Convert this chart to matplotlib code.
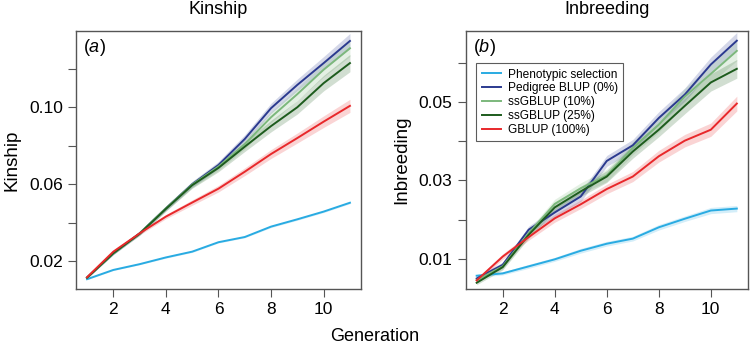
import matplotlib
matplotlib.use("Agg")
import matplotlib.pyplot as plt
import numpy as np

plt.rcParams['font.family'] = ['Liberation Sans', 'DejaVu Sans']
plt.rcParams['mathtext.fontset'] = 'custom'
plt.rcParams['mathtext.it'] = 'Liberation Sans:italic'
plt.rcParams['mathtext.rm'] = 'Liberation Sans'

generation = [1, 2, 3, 4, 5, 6, 7, 8, 9, 10, 11]
series_names = ["Phenotypic selection", "Pedigree BLUP (0%)", "ssGBLUP (10%)",
                "ssGBLUP (25%)", "GBLUP (100%)"]
series_colors = ["#29abe2", "#2b3a8f", "#7cb87c", "#1d5c1d", "#e8282b"]

# panel (a) kinship means
kin_pheno = [0.0107, 0.0155, 0.0185, 0.0220, 0.0250, 0.0299, 0.0326, 0.0380, 0.0418, 0.0458, 0.0504]
kin_ped = [0.0115, 0.0240, 0.0345, 0.0475, 0.0600, 0.0700, 0.0835, 0.0995, 0.1116, 0.1229, 0.1344]
kin_ss10 = [0.0115, 0.0240, 0.0345, 0.0475, 0.0598, 0.0692, 0.0808, 0.0948, 0.1068, 0.1195, 0.1306]
kin_ss25 = [0.0115, 0.0242, 0.0343, 0.0472, 0.0595, 0.0685, 0.0795, 0.0902, 0.1000, 0.1125, 0.1229]
kin_gblup = [0.0117, 0.0250, 0.0345, 0.0432, 0.0505, 0.0577, 0.0665, 0.0757, 0.0840, 0.0925, 0.1007]

# panel (a) band half-widths
kin_pheno_sd = [0.0003, 0.0003, 0.0003, 0.0004, 0.0004, 0.0004, 0.0004, 0.0005, 0.0005, 0.0005, 0.0005]
kin_ped_sd = [0.0004, 0.0006, 0.0009, 0.0012, 0.0015, 0.0018, 0.0022, 0.0026, 0.0030, 0.0034, 0.0039]
kin_ss10_sd = [0.0004, 0.0006, 0.0009, 0.0012, 0.0016, 0.0020, 0.0024, 0.0028, 0.0032, 0.0037, 0.0042]
kin_ss25_sd = [0.0004, 0.0006, 0.0009, 0.0012, 0.0016, 0.0020, 0.0025, 0.0030, 0.0035, 0.0040, 0.0045]
kin_gblup_sd = [0.0004, 0.0006, 0.0008, 0.0011, 0.0014, 0.0017, 0.0020, 0.0023, 0.0026, 0.0030, 0.0034]

# panel (b) inbreeding means
inb_pheno = [0.0056, 0.0062, 0.0080, 0.0098, 0.0120, 0.0138, 0.0151, 0.0180, 0.0202, 0.0223, 0.0228]
inb_ped = [0.0049, 0.0084, 0.0174, 0.0218, 0.0259, 0.0350, 0.0390, 0.0460, 0.0520, 0.0597, 0.0658]
inb_ss10 = [0.0045, 0.0080, 0.0165, 0.0240, 0.0280, 0.0313, 0.0383, 0.0443, 0.0515, 0.0573, 0.0632]
inb_ss25 = [0.0038, 0.0078, 0.0161, 0.0231, 0.0272, 0.0310, 0.0374, 0.0430, 0.0491, 0.0551, 0.0586]
inb_gblup = [0.0044, 0.0105, 0.0155, 0.0203, 0.0239, 0.0278, 0.0310, 0.0362, 0.0402, 0.0430, 0.0497]

# panel (b) band half-widths
inb_pheno_sd = [0.0004, 0.0004, 0.0005, 0.0005, 0.0006, 0.0006, 0.0006, 0.0007, 0.0007, 0.0008, 0.0008]
inb_ped_sd = [0.0005, 0.0007, 0.0009, 0.0011, 0.0013, 0.0014, 0.0015, 0.0016, 0.0017, 0.0019, 0.0021]
inb_ss10_sd = [0.0005, 0.0007, 0.0009, 0.0012, 0.0014, 0.0016, 0.0017, 0.0019, 0.0021, 0.0023, 0.0025]
inb_ss25_sd = [0.0005, 0.0007, 0.0009, 0.0011, 0.0013, 0.0015, 0.0017, 0.0018, 0.0020, 0.0022, 0.0024]
inb_gblup_sd = [0.0005, 0.0007, 0.0008, 0.0010, 0.0011, 0.0012, 0.0013, 0.0015, 0.0016, 0.0017, 0.0019]

kin_means = [kin_pheno, kin_ped, kin_ss10, kin_ss25, kin_gblup]
kin_sds = [kin_pheno_sd, kin_ped_sd, kin_ss10_sd, kin_ss25_sd, kin_gblup_sd]
inb_means = [inb_pheno, inb_ped, inb_ss10, inb_ss25, inb_gblup]
inb_sds = [inb_pheno_sd, inb_ped_sd, inb_ss10_sd, inb_ss25_sd, inb_gblup_sd]

fig = plt.figure(figsize=(7.5, 3.45), dpi=100)
ax_a = fig.add_axes([0.1013, 0.1623, 0.380, 0.748])
ax_b = fig.add_axes([0.621, 0.1623, 0.376, 0.748])

edge = "#555555"


def draw_panel(ax, means, sds, title, ylabel, letter, ylim, major, minor):
    x = np.array(generation)
    for name, col, m, s in zip(series_names, series_colors, means, sds):
        m = np.array(m)
        s = np.array(s)
        ax.fill_between(x, m - s, m + s, color=col, alpha=0.2, lw=0)
    for name, col, m in zip(series_names, series_colors, means):
        ax.plot(x, m, color=col, lw=1.4, label=name)
    ax.set_xlim(0.58, 11.42)
    ax.set_ylim(*ylim)
    ax.set_xticks([2, 4, 6, 8, 10])
    ax.set_yticks(major)
    ax.set_yticks(minor, minor=True)
    ax.set_yticklabels(["%.2f" % v for v in major])
    ax.tick_params(axis="both", which="both", direction="out", length=5.5,
                   width=0.8, color=edge, labelsize=12.5, pad=4)
    for sp in ax.spines.values():
        sp.set_color(edge)
        sp.set_linewidth(1.0)
    ax.set_title(title, fontsize=13, pad=12)
    ax.set_ylabel(ylabel, fontsize=13.5, labelpad=6)
    ax.text(0.025, 0.975, "(" + r"$\it{" + letter + "}$" + ")", transform=ax.transAxes,
            fontsize=13, va="top", ha="left")


draw_panel(ax_a, kin_means, kin_sds, "Kinship", "Kinship", "a",
           (0.0056, 0.1396), [0.02, 0.06, 0.10], [0.04, 0.08, 0.12])
draw_panel(ax_b, inb_means, inb_sds, "Inbreeding", "Inbreeding", "b",
           (0.0022, 0.0683), [0.01, 0.03, 0.05], [0.02, 0.04, 0.06])

leg = ax_b.legend(loc="upper left", bbox_to_anchor=(0.037, 0.875), fontsize=8.6,
                  frameon=True, fancybox=False, handlelength=1.6,
                  borderpad=0.45, labelspacing=0.15, handletextpad=0.6,
                  borderaxespad=0)
leg.get_frame().set_edgecolor("#333333")
leg.get_frame().set_linewidth(0.8)

fig.text(0.5, 0.025, "Generation", ha="center", va="center", fontsize=13)

fig.savefig("out.png", dpi=100)
